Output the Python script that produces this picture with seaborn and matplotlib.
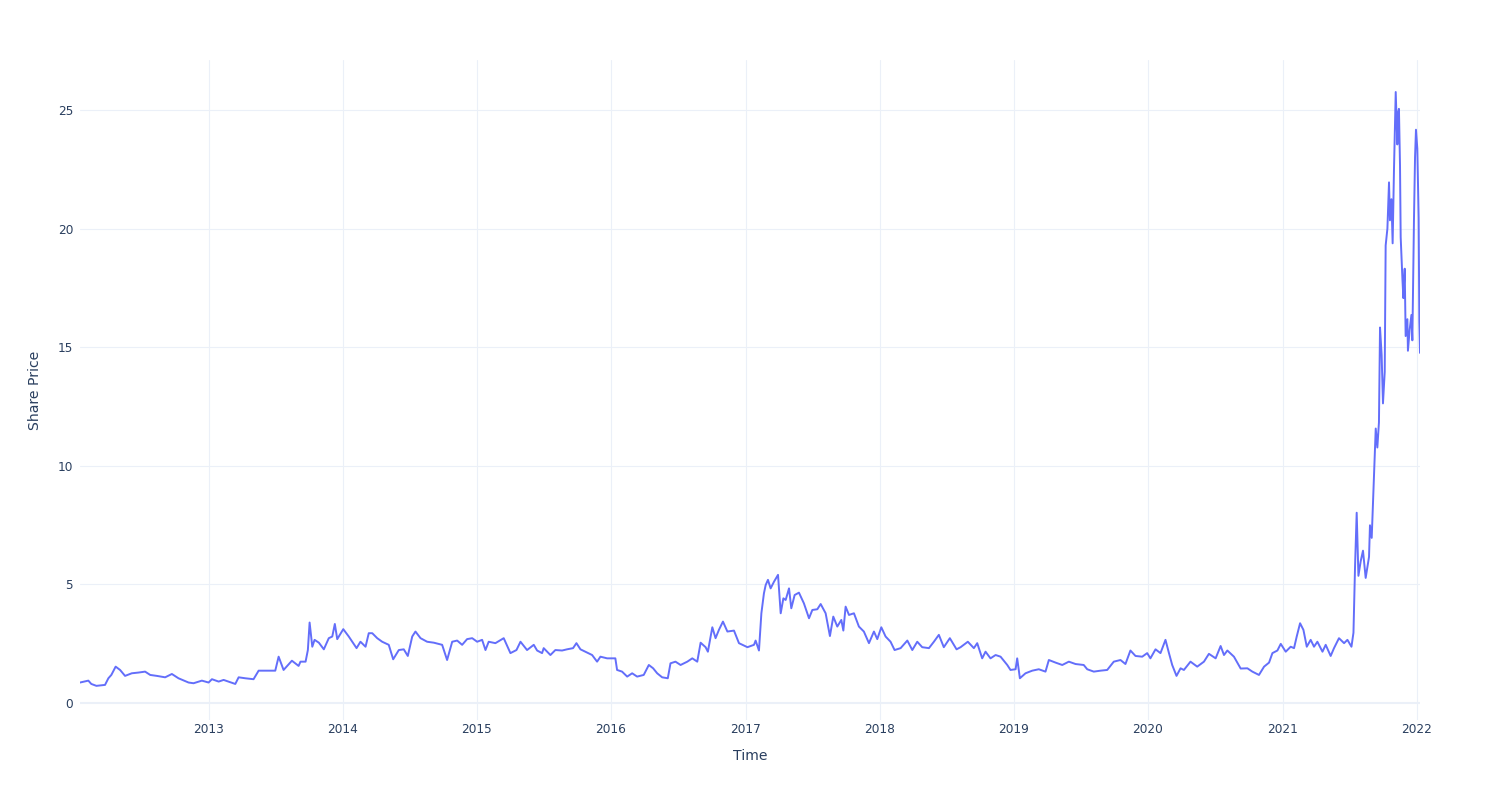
import numpy as np
import pandas as pd
import matplotlib
matplotlib.use("Agg")
import matplotlib.pyplot as plt
import seaborn as sns

# Time as decimal years
year_frac = [
    2012.044, 2012.106, 2012.128, 2012.166, 2012.230, 2012.255, 2012.277, 2012.309, 2012.342, 2012.379,
    2012.429, 2012.478, 2012.528, 2012.566, 2012.615, 2012.677, 2012.727, 2012.776, 2012.851, 2012.888,
    2012.950, 2013.000, 2013.025, 2013.075, 2013.112, 2013.199, 2013.224, 2013.273, 2013.335, 2013.373,
    2013.422, 2013.497, 2013.522, 2013.559, 2013.621, 2013.671, 2013.685, 2013.723, 2013.740, 2013.753,
    2013.773, 2013.790, 2013.822, 2013.859, 2013.896, 2013.922, 2013.941, 2013.959, 2014.004, 2014.045,
    2014.103, 2014.132, 2014.170, 2014.194, 2014.220, 2014.257, 2014.294, 2014.343, 2014.376, 2014.418,
    2014.455, 2014.485, 2014.518, 2014.542, 2014.580, 2014.629, 2014.679, 2014.741, 2014.778, 2014.816,
    2014.853, 2014.890, 2014.927, 2014.965, 2015.002, 2015.039, 2015.064, 2015.088, 2015.138, 2015.200,
    2015.250, 2015.295, 2015.325, 2015.374, 2015.424, 2015.449, 2015.486, 2015.498, 2015.548, 2015.585,
    2015.635, 2015.672, 2015.717, 2015.742, 2015.772, 2015.822, 2015.859, 2015.896, 2015.921, 2015.971,
    2016.032, 2016.045, 2016.082, 2016.120, 2016.157, 2016.194, 2016.243, 2016.281, 2016.313, 2016.343,
    2016.380, 2016.422, 2016.442, 2016.479, 2016.517, 2016.567, 2016.604, 2016.641, 2016.666, 2016.703,
    2016.720, 2016.753, 2016.777, 2016.802, 2016.832, 2016.865, 2016.914, 2016.951, 2017.014, 2017.063,
    2017.075, 2017.100, 2017.118, 2017.137, 2017.150, 2017.167, 2017.187, 2017.212, 2017.242, 2017.262,
    2017.282, 2017.299, 2017.324, 2017.341, 2017.366, 2017.398, 2017.435, 2017.473, 2017.498, 2017.535,
    2017.560, 2017.597, 2017.629, 2017.654, 2017.684, 2017.714, 2017.729, 2017.746, 2017.771, 2017.808,
    2017.845, 2017.882, 2017.920, 2017.957, 2017.982, 2018.012, 2018.044, 2018.081, 2018.111, 2018.156,
    2018.206, 2018.243, 2018.280, 2018.317, 2018.367, 2018.404, 2018.441, 2018.478, 2018.523, 2018.573,
    2018.603, 2018.657, 2018.702, 2018.727, 2018.764, 2018.789, 2018.826, 2018.864, 2018.901, 2018.951,
    2018.975, 2019.013, 2019.025, 2019.045, 2019.087, 2019.137, 2019.186, 2019.236, 2019.261, 2019.311,
    2019.361, 2019.410, 2019.460, 2019.521, 2019.547, 2019.596, 2019.646, 2019.696, 2019.745, 2019.795,
    2019.832, 2019.869, 2019.907, 2019.957, 2019.994, 2020.018, 2020.056, 2020.093, 2020.130, 2020.155,
    2020.180, 2020.212, 2020.242, 2020.267, 2020.316, 2020.366, 2020.416, 2020.453, 2020.503, 2020.540,
    2020.565, 2020.590, 2020.639, 2020.689, 2020.739, 2020.776, 2020.825, 2020.863, 2020.900, 2020.925,
    2020.962, 2020.987, 2021.024, 2021.061, 2021.086, 2021.106, 2021.131, 2021.156, 2021.181, 2021.210,
    2021.235, 2021.260, 2021.298, 2021.322, 2021.359, 2021.384, 2021.421, 2021.459, 2021.484, 2021.514,
    2021.529, 2021.541, 2021.553, 2021.566, 2021.583, 2021.600, 2021.620, 2021.645, 2021.652, 2021.665,
    2021.678, 2021.695, 2021.707, 2021.719, 2021.727, 2021.739, 2021.749, 2021.762, 2021.769, 2021.782,
    2021.794, 2021.801, 2021.812, 2021.821, 2021.831, 2021.844, 2021.856, 2021.861, 2021.868, 2021.876,
    2021.881, 2021.894, 2021.901, 2021.911, 2021.918, 2021.931, 2021.935, 2021.948, 2021.961, 2021.968,
    2021.980, 2021.988, 2021.995, 2022.005, 2022.015, 2022.020, 2022.025,
]

# Share price values
share_price = [
    0.86, 0.94, 0.80, 0.72, 0.76, 1.04, 1.18, 1.53, 1.39, 1.14,
    1.25, 1.28, 1.32, 1.18, 1.14, 1.08, 1.22, 1.04, 0.86, 0.83,
    0.94, 0.86, 1.00, 0.90, 0.97, 0.80, 1.08, 1.04, 1.00, 1.36,
    1.36, 1.36, 1.95, 1.39, 1.78, 1.56, 1.74, 1.74, 2.23, 3.39,
    2.37, 2.66, 2.54, 2.26, 2.73, 2.80, 3.33, 2.69, 3.11, 2.80,
    2.31, 2.58, 2.37, 2.94, 2.94, 2.73, 2.58, 2.45, 1.84, 2.23,
    2.26, 1.98, 2.80, 3.01, 2.73, 2.58, 2.54, 2.45, 1.81, 2.58,
    2.63, 2.45, 2.69, 2.73, 2.58, 2.66, 2.23, 2.58, 2.52, 2.73,
    2.10, 2.23, 2.58, 2.23, 2.45, 2.21, 2.10, 2.31, 2.02, 2.23,
    2.21, 2.26, 2.31, 2.52, 2.26, 2.12, 2.02, 1.74, 1.95, 1.88,
    1.88, 1.39, 1.32, 1.11, 1.25, 1.11, 1.18, 1.60, 1.46, 1.25,
    1.08, 1.04, 1.67, 1.74, 1.60, 1.74, 1.88, 1.74, 2.54, 2.35,
    2.16, 3.19, 2.73, 3.08, 3.43, 3.01, 3.05, 2.52, 2.35, 2.45,
    2.63, 2.21, 3.78, 4.62, 4.97, 5.19, 4.83, 5.11, 5.40, 3.78,
    4.41, 4.34, 4.83, 3.99, 4.55, 4.65, 4.20, 3.57, 3.92, 3.95,
    4.17, 3.78, 2.82, 3.64, 3.22, 3.50, 3.05, 4.06, 3.71, 3.78,
    3.22, 3.01, 2.52, 3.01, 2.69, 3.19, 2.80, 2.58, 2.23, 2.31,
    2.63, 2.23, 2.58, 2.35, 2.31, 2.58, 2.87, 2.35, 2.73, 2.26,
    2.35, 2.58, 2.31, 2.52, 1.88, 2.16, 1.88, 2.02, 1.95, 1.60,
    1.39, 1.42, 1.88, 1.04, 1.25, 1.36, 1.42, 1.32, 1.81, 1.70,
    1.60, 1.74, 1.64, 1.60, 1.42, 1.32, 1.36, 1.39, 1.74, 1.81,
    1.64, 2.21, 1.98, 1.95, 2.10, 1.88, 2.26, 2.10, 2.66, 2.12,
    1.60, 1.14, 1.46, 1.39, 1.74, 1.53, 1.74, 2.07, 1.88, 2.40,
    2.02, 2.21, 1.95, 1.45, 1.46, 1.32, 1.18, 1.53, 1.70, 2.10,
    2.21, 2.49, 2.16, 2.37, 2.31, 2.80, 3.36, 3.08, 2.37, 2.66,
    2.37, 2.58, 2.16, 2.45, 1.98, 2.31, 2.73, 2.52, 2.66, 2.37,
    2.96, 5.80, 8.02, 5.36, 5.98, 6.42, 5.27, 6.16, 7.49, 6.96,
    8.91, 11.57, 10.77, 11.83, 15.83, 14.67, 12.63, 13.96, 19.29, 20.00,
    21.95, 20.35, 21.24, 19.38, 22.48, 25.76, 23.55, 24.88, 25.05, 22.66,
    19.64, 17.87, 17.07, 18.31, 15.47, 16.18, 14.85, 15.74, 16.36, 15.29,
    20.35, 23.01, 24.17, 23.37, 20.44, 16.09, 14.76,
]

y_ticks = [0, 5, 10, 15, 20, 25]
x_tick_years = list(range(2013, 2023))


def frac_to_date(y):
    yr = int(np.floor(y))
    start = pd.Timestamp(year=yr, month=1, day=1)
    end = pd.Timestamp(year=yr + 1, month=1, day=1)
    return start + (end - start) * (y - yr)


dates = [frac_to_date(v) for v in year_frac]
df = pd.DataFrame({"Time": dates, "Share Price": share_price})

sns.set_theme(style="white")
plt.rcParams["font.family"] = ["DejaVu Sans"]

GRID = "#EBF0F8"
TEXT = "#2a3f5f"
LINE = "#636EFA"

fig = plt.figure(figsize=(15, 8), dpi=100)
ax = fig.add_axes([80 / 1500, 80 / 800, 1340 / 1500, 660 / 800])
ax.set_facecolor("white")

# grid
for yv in y_ticks:
    ax.axhline(yv, color=GRID, lw=1.5 if yv == 0 else 0.8, zorder=0)
for yr in x_tick_years:
    ax.axvline(pd.Timestamp(year=yr, month=1, day=1), color=GRID, lw=0.8, zorder=0)

sns.lineplot(data=df, x="Time", y="Share Price", ax=ax, color=LINE,
             linewidth=1.4, estimator=None, sort=False, zorder=3)

ax.set_xlim(df["Time"].iloc[0], df["Time"].iloc[-1])
ax.set_ylim(-0.72, 27.11)

ax.set_yticks(y_ticks)
ax.set_yticklabels([str(v) for v in y_ticks])
ax.set_xticks([pd.Timestamp(year=yr, month=1, day=1) for yr in x_tick_years])
ax.set_xticklabels([str(yr) for yr in x_tick_years])

ax.tick_params(axis="both", length=0, labelsize=8.7, labelcolor=TEXT)
ax.tick_params(axis="y", pad=5)
ax.tick_params(axis="x", pad=2)

for s in ax.spines.values():
    s.set_visible(False)
ax.grid(False)

ax.set_xlabel("Time", fontsize=10.1, color=TEXT)
ax.set_ylabel("Share Price", fontsize=10.1, color=TEXT)
ax.xaxis.set_label_coords(0.5, -36 / 660)
ax.xaxis.label.set_va("center")
ax.yaxis.set_label_coords(-45 / 1340, 0.5)
ax.yaxis.label.set_va("center")

fig.savefig("out.png", dpi=100, facecolor="white")
